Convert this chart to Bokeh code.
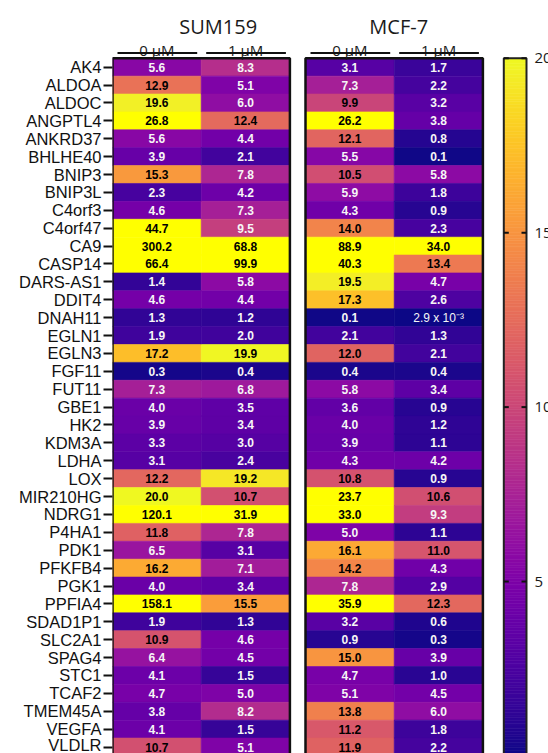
import numpy as np
from bokeh.plotting import figure
from bokeh.models import ColumnDataSource, Range1d, FixedTicker, LinearColorMapper
from bokeh.transform import transform
from bokeh.palettes import Plasma256
from bokeh.core.properties import value
from bokeh.embed import file_html
from bokeh.resources import INLINE

# ---------------- data ----------------
genes = ["AK4", "ALDOA", "ALDOC", "ANGPTL4", "ANKRD37", "BHLHE40", "BNIP3", "BNIP3L",
         "C4orf3", "C4orf47", "CA9", "CASP14", "DARS-AS1", "DDIT4", "DNAH11", "EGLN1",
         "EGLN3", "FGF11", "FUT11", "GBE1", "HK2", "KDM3A", "LDHA", "LOX", "MIR210HG",
         "NDRG1", "P4HA1", "PDK1", "PFKFB4", "PGK1", "PPFIA4", "SDAD1P1", "SLC2A1",
         "SPAG4", "STC1", "TCAF2", "TMEM45A", "VEGFA", "VLDLR"]
cell_lines = ["SUM159", "MCF-7"]
doses = ["0 µM", "1 µM"]

sum159_0uM = [5.6, 12.9, 19.6, 26.8, 5.6, 3.9, 15.3, 2.3, 4.6, 44.7, 300.2, 66.4, 1.4,
              4.6, 1.3, 1.9, 17.2, 0.3, 7.3, 4.0, 3.9, 3.3, 3.1, 12.2, 20.0, 120.1, 11.8,
              6.5, 16.2, 4.0, 158.1, 1.9, 10.9, 6.4, 4.1, 4.7, 3.8, 4.1, 10.7]
sum159_1uM = [8.3, 5.1, 6.0, 12.4, 4.4, 2.1, 7.8, 4.2, 7.3, 9.5, 68.8, 99.9, 5.8,
              4.4, 1.2, 2.0, 19.9, 0.4, 6.8, 3.5, 3.4, 3.0, 2.4, 19.2, 10.7, 31.9, 7.8,
              3.1, 7.1, 3.4, 15.5, 1.3, 4.6, 4.5, 1.5, 5.0, 8.2, 1.5, 5.1]
mcf7_0uM = [3.1, 7.3, 9.9, 26.2, 12.1, 5.5, 10.5, 5.9, 4.3, 14.0, 88.9, 40.3, 19.5,
            17.3, 0.1, 2.1, 12.0, 0.4, 5.8, 3.6, 4.0, 3.9, 4.3, 10.8, 23.7, 33.0, 5.0,
            16.1, 14.2, 7.8, 35.9, 3.2, 0.9, 15.0, 4.7, 5.1, 13.8, 11.2, 11.9]
mcf7_1uM = [1.7, 2.2, 3.2, 3.8, 0.8, 0.1, 5.8, 1.8, 0.9, 2.3, 34.0, 13.4, 4.7,
            2.6, 0.0029, 1.3, 2.1, 0.4, 3.4, 0.9, 1.2, 1.1, 4.2, 0.9, 10.6, 9.3, 1.1,
            11.0, 4.3, 2.9, 12.3, 0.6, 0.3, 3.9, 1.0, 4.5, 6.0, 1.8, 2.2]

cbar_ticks = [5, 10, 15, 20]
cbar_low, cbar_high = 0, 20

# ---------------- layout (pixels) ----------------
W, H = 548, 753
LEFT = 112
COLW = 88.7
PANEL_LEFT = [112, 305]
TITLE_DX = [17, 4.5]
ROW_H = 17.89
TOP_PX = 57.75
NR = len(genes)
Y0 = -0.5 - TOP_PX / ROW_H
Y1 = Y0 + H / ROW_H
CB_L, CB_R = 503.3, 526.0


def py(px):
    return Y0 + px / ROW_H


SUP = str.maketrans("-0123456789", "⁻⁰¹²³⁴⁵⁶⁷⁸⁹")


def fmt(v):
    if v < 0.05:
        e = int(np.floor(np.log10(v)))
        m = v / 10 ** e
        return f"{m:.1f} x 10" + str(e).translate(SUP)
    return f"{v:.1f}"


mapper = LinearColorMapper(palette=Plasma256, low=cbar_low, high=cbar_high,
                           high_color="#FFFF00")

p = figure(width=W, height=H, x_range=Range1d(LEFT, W), y_range=Range1d(Y1, Y0),
           x_axis_location=None, output_backend="svg", toolbar_location=None,
           min_border_left=LEFT, min_border_right=0, min_border_top=0,
           min_border_bottom=0, outline_line_color=None)
p.grid.visible = False

ax = p.yaxis[0]
ax.ticker = FixedTicker(ticks=list(range(NR)))
ax.major_label_overrides = {i: g for i, g in enumerate(genes)}
ax.axis_line_color = None
ax.major_tick_line_width = 2
ax.major_tick_line_color = "#111111"
ax.major_tick_out = 9
ax.major_tick_in = 0
ax.minor_tick_line_color = None
ax.major_label_standoff = 2
ax.major_label_text_font = "Liberation Sans"
ax.major_label_text_font_size = "16.5px"
ax.major_label_text_color = "#111111"

# ---------------- cells ----------------
series = [[sum159_0uM, sum159_1uM], [mcf7_0uM, mcf7_1uM]]
data = dict(x=[], y=[], v=[], label=[], tcolor=[], tiny=[])
for k, pair in enumerate(series):
    for c, vals in enumerate(pair):
        for i, v in enumerate(vals):
            data["x"].append(PANEL_LEFT[k] + (c + 0.5) * COLW)
            data["y"].append(i)
            data["v"].append(v)
            data["label"].append(fmt(v))
            data["tcolor"].append("#000000" if v >= 9.7 else "#F6F6F6")
            data["tiny"].append(v < 0.05)
src = ColumnDataSource(data)
p.rect(x="x", y="y", width=COLW, height=1, source=src,
       fill_color=transform("v", mapper), line_color=transform("v", mapper),
       line_width=0.6)

bold_idx = [j for j, t in enumerate(data["tiny"]) if not t]
tiny_idx = [j for j, t in enumerate(data["tiny"]) if t]
for idx, style, size in [(bold_idx, "bold", "12px"), (tiny_idx, "normal", "12px")]:
    sub = ColumnDataSource({key: [data[key][j] for j in idx] for key in ("x", "y", "label", "tcolor")})
    p.text(x="x", y="y", text="label", source=sub, text_color="tcolor",
           text_font=value("Liberation Sans"), text_font_style=style,
           text_font_size=size, text_align="center", text_baseline="middle")

# panel frames
p.quad(left=PANEL_LEFT, right=[pl + 2 * COLW for pl in PANEL_LEFT],
       top=[-0.5] * 2, bottom=[NR - 0.5] * 2, fill_color=None,
       line_color="#111111", line_width=2.5)

# headers
p.text(x=[PANEL_LEFT[k] + COLW + TITLE_DX[k] for k in range(2)], y=[py(26)] * 2,
       text=cell_lines, text_font=value("Open Sans"), text_font_size="20px",
       text_align="center", text_baseline="alphabetic", text_color="#1a1a1a")
dx, dt = [], []
for k in range(2):
    for c in range(2):
        dx.append(PANEL_LEFT[k] + (c + 0.5) * COLW)
        dt.append(doses[c])
p.text(x=dx, y=[py(49.3)] * 4, text=dt, text_font=value("Open Sans"),
       text_font_size="15px", text_align="center", text_baseline="alphabetic",
       text_color="#1a1a1a")
p.segment(x0=[x - COLW / 2 + 5 for x in dx], x1=[x + COLW / 2 - 4 for x in dx],
          y0=[py(52.6)] * 4, y1=[py(52.6)] * 4, line_color="#111111", line_width=2)

# ---------------- color bar ----------------
def cb_y(v):
    return (NR - 0.5) - (v - cbar_low) * NR / (cbar_high - cbar_low)


edges = np.linspace(cbar_low, cbar_high, 257)
cb = ColumnDataSource(dict(v=(edges[:-1] + edges[1:]) / 2,
                           top=[cb_y(e) for e in edges[1:]],
                           bottom=[cb_y(e) for e in edges[:-1]]))
p.quad(left=CB_L, right=CB_R, top="top", bottom="bottom", source=cb,
       fill_color=transform("v", mapper), line_color=transform("v", mapper),
       line_width=0.6)
p.quad(left=[CB_L], right=[CB_R], top=[cb_y(cbar_high)], bottom=[cb_y(cbar_low)],
       fill_color=None, line_color="#222222", line_width=2)
ty = [cb_y(t) for t in cbar_ticks]
p.segment(x0=[CB_L] * 4, x1=[CB_L + 5] * 4, y0=ty, y1=ty, line_color="#111111", line_width=2)
p.segment(x0=[CB_R - 5] * 4, x1=[CB_R] * 4, y0=ty, y1=ty, line_color="#111111", line_width=2)
p.text(x=[CB_R + 8] * 4, y=ty, text=[str(t) for t in cbar_ticks],
       text_font=value("Open Sans"), text_font_size="15px", text_align="left",
       text_baseline="middle", text_color="#1a1a1a")

open("out.html", "w").write(file_html(p, INLINE))
